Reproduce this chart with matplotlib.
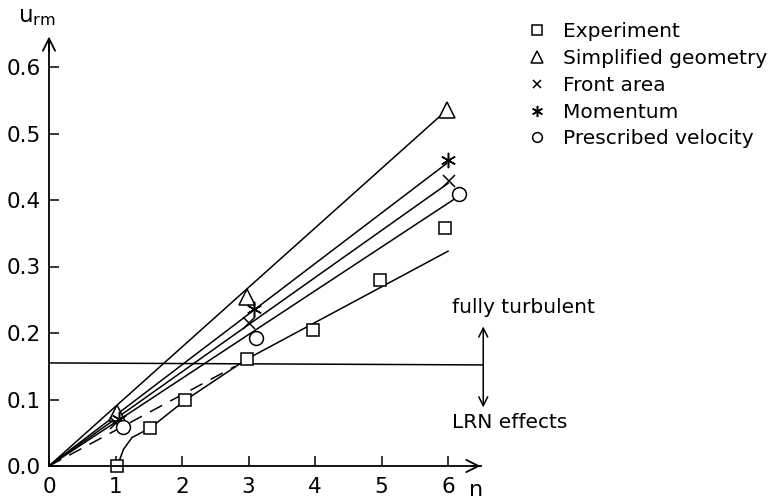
import matplotlib.pyplot as plt
from matplotlib.lines import Line2D

# values
exp_n = [1.02, 1.52, 2.05, 2.98, 3.97, 4.97, 5.95]
exp_u = [0.0, 0.057, 0.099, 0.161, 0.205, 0.28, 0.358]

simp_n = [1.02, 2.97, 5.98]
simp_u = [0.08, 0.254, 0.535]

front_n = [1.0, 3.0, 6.02]
front_u = [0.065, 0.215, 0.428]

mom_n = [1.05, 3.08, 6.0]
mom_u = [0.07, 0.236, 0.46]

presc_n = [1.11, 3.11, 6.17]
presc_u = [0.059, 0.192, 0.409]

# fitted curves through the data
exp_fit_n = [1.05, 1.12, 1.25, 1.52, 2.05, 2.98, 6.0]
exp_fit_u = [0.006, 0.025, 0.043, 0.057, 0.099, 0.161, 0.323]
dash_n = [0.0, 2.8]
dash_u = [0.0, 0.15]
simp_fit_n = [0.0, 5.98]
simp_fit_u = [0.0, 0.535]
mom_fit_n = [0.0, 5.98]
mom_fit_u = [0.0, 0.455]
front_fit_n = [0.0, 6.0]
front_fit_u = [0.0, 0.425]
presc_fit_n = [0.0, 6.12]
presc_fit_u = [0.0, 0.403]

limit_n = [0.0, 6.53]
limit_u = [0.155, 0.152]

x_ticks = [0, 1, 2, 3, 4, 5, 6]
y_ticks = [0.0, 0.1, 0.2, 0.3, 0.4, 0.5, 0.6]
y_labels = ['0.0', '0.1', '0.2', '0.3', '0.4', '0.5', '0.6']


def main():
    plt.rcParams['font.family'] = 'DejaVu Sans'
    plt.rcParams['mathtext.default'] = 'regular'

    fig = plt.figure(figsize=(7.8, 5.01), dpi=100)
    ax = fig.add_axes([0, 0, 1, 1])
    ax.set_xlim(-49 / 66.5, (780 - 49) / 66.5)
    ax.set_ylim(-35 / 665, (501 - 35) / 665)

    lw = 1.1
    ms = 9
    for fn, fu in [(simp_fit_n, simp_fit_u), (mom_fit_n, mom_fit_u),
                   (front_fit_n, front_fit_u), (presc_fit_n, presc_fit_u),
                   (exp_fit_n, exp_fit_u)]:
        ax.plot(fn, fu, color='black', lw=lw)
    ax.plot(dash_n, dash_u, color='black', lw=lw, dashes=(9, 6))
    ax.plot(limit_n, limit_u, color='black', lw=lw)

    mk = dict(color='black', mfc='white', mew=1.1, linestyle='none')
    ax.plot(exp_n, exp_u, marker='s', ms=ms, **mk)
    ax.plot(simp_n, simp_u, marker='^', ms=ms + 2, **mk)
    ax.plot(front_n, front_u, marker='x', ms=ms - 1, **mk)
    ax.plot(mom_n, mom_u, marker=(6, 2, 0), ms=ms + 2, **mk)
    ax.plot(presc_n, presc_u, marker='o', ms=ms + 1, **mk)

    # axes with arrows
    for s in ['top', 'right']:
        ax.spines[s].set_visible(False)
    ax.spines['left'].set_position(('data', 0))
    ax.spines['bottom'].set_position(('data', 0))
    ax.spines['left'].set_bounds(0, 0.64)
    ax.spines['bottom'].set_bounds(0, 6.5)
    ax.spines['left'].set_linewidth(1.3)
    ax.spines['bottom'].set_linewidth(1.3)
    ax.annotate('', xy=(6.53, 0), xytext=(6.3, 0),
                arrowprops=dict(arrowstyle='->', lw=1.3,
                                mutation_scale=22))
    ax.annotate('', xy=(0, 0.65), xytext=(0, 0.62),
                arrowprops=dict(arrowstyle='->', lw=1.3,
                                mutation_scale=22))

    ax.set_xticks(x_ticks)
    ax.set_yticks(y_ticks)
    ax.set_yticklabels(y_labels)
    ax.tick_params(direction='in', length=7, width=1.1, labelsize=15.5)
    ax.tick_params(axis='x', pad=8)
    ax.tick_params(axis='y', pad=6)

    ax.text(-0.47, 0.676, 'u$_{rm}$', fontsize=16.5, ha='left',
            va='center')
    ax.text(6.42, -0.036, 'n', fontsize=16, ha='center', va='center')

    # regime indicator
    ax.annotate('', xy=(6.53, 0.214), xytext=(6.53, 0.084),
                arrowprops=dict(arrowstyle='<->', lw=1.1,
                                mutation_scale=16))
    ax.text(6.06, 0.238, 'fully turbulent', fontsize=14.5, va='center')
    ax.text(6.06, 0.065, 'LRN effects', fontsize=14.5, va='center')

    handles = [
        Line2D([], [], marker='s', ms=6.5, **mk),
        Line2D([], [], marker='^', ms=8.5, **mk),
        Line2D([], [], marker='x', ms=6, **mk),
        Line2D([], [], marker=(6, 2, 0), ms=8, **mk),
        Line2D([], [], marker='o', ms=7, **mk),
    ]
    labels = ['Experiment', 'Simplified geometry', 'Front area',
              'Momentum', 'Prescribed velocity']
    fig.legend(handles, labels, loc='upper left',
               bbox_to_anchor=(528 / 780, 1 - 22 / 501), frameon=False,
               fontsize=14.5, handlelength=0.9, handletextpad=0.85,
               labelspacing=0.39, borderpad=0, borderaxespad=0)

    fig.savefig('out.png', dpi=100)


if __name__ == "__main__":
    main()
